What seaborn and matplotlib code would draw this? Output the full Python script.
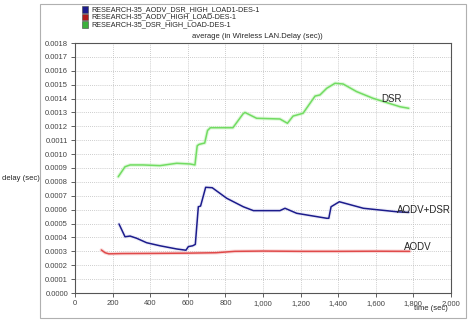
import numpy as np
import pandas as pd
import seaborn as sns
import matplotlib.pyplot as plt
from matplotlib.patches import Rectangle

# --- values ---
dsr_t = [230, 266, 293, 362, 452, 541, 612, 638, 650, 660, 690, 705, 720, 840, 894, 904,
         966, 1090, 1130, 1160, 1213, 1277, 1303, 1339, 1383, 1426, 1498, 1585, 1729, 1775]
dsr_v = [0.000837, 0.000909, 0.000922, 0.000922, 0.000917, 0.000934, 0.000929, 0.000922,
         0.00106, 0.00107, 0.00108, 0.00117, 0.00119, 0.00119, 0.00129, 0.00130,
         0.001258, 0.001253, 0.001222, 0.001274, 0.001294, 0.001418, 0.001426, 0.001474,
         0.00151, 0.001505, 0.00145, 0.001402, 0.001341, 0.00133]

mix_t = [234, 266, 293, 328, 381, 452, 541, 590, 603, 626, 640, 656, 668, 695, 730, 807,
         895, 949, 1090, 1117, 1179, 1232, 1339, 1350, 1362, 1406, 1534, 1711, 1775]
mix_v = [0.000497, 0.000405, 0.00041, 0.000394, 0.000362, 0.00034, 0.000317, 0.000308,
         0.000334, 0.00034, 0.00035, 0.000621, 0.000626, 0.000761, 0.000758, 0.000682,
         0.000621, 0.000593, 0.000593, 0.00061, 0.000574, 0.000562, 0.000538, 0.000538,
         0.000621, 0.000657, 0.00061, 0.000585, 0.00058]

aodv_t = [140, 160, 180, 250, 400, 600, 750, 850, 1000, 1200, 1400, 1600, 1780]
aodv_v = [0.00031, 0.00029, 0.000282, 0.000284, 0.000285, 0.000287, 0.00029, 0.0003,
          0.000302, 0.0003, 0.0003, 0.000301, 0.0003]

series_names = ["RESEARCH-35_AODV_DSR_HIGH_LOAD1-DES-1",
                "RESEARCH-35_AODV_HIGH_LOAD-DES-1",
                "RESEARCH-35_DSR_HIGH_LOAD-DES-1"]
line_colors = ["#1c1c8c", "#e04a4a", "#72dc62"]
glow_colors = ["#dcdcf2", "#f4b8b8", "#c0f2b8"]
legend_colors = ["#1c1c8c", "#b01c1c", "#3cb03c"]
x_ticks = list(range(0, 2001, 200))
y_ticks = [i / 10000 for i in range(0, 19)]

df = pd.concat([
    pd.DataFrame({"time": mix_t, "delay": mix_v, "series": series_names[0]}),
    pd.DataFrame({"time": aodv_t, "delay": aodv_v, "series": series_names[1]}),
    pd.DataFrame({"time": dsr_t, "delay": dsr_v, "series": series_names[2]}),
])

sns.set_style("white")
plt.rcParams["font.family"] = ["Liberation Sans", "DejaVu Sans"]

fig = plt.figure(figsize=(4.7, 3.22), dpi=100)
ax = fig.add_axes([75 / 470, 29 / 322, 376 / 470, 250 / 322])

# outer frame around the whole chart area
fig.patches.append(Rectangle((40 / 470, 4 / 322), 426 / 470, 314 / 322,
                             transform=fig.transFigure, fill=False,
                             edgecolor="#b0b0b0", linewidth=0.8))

# soft halo under each line, then the line itself
sns.lineplot(data=df, x="time", y="delay", hue="series", palette=glow_colors,
             hue_order=series_names, linewidth=2.6, alpha=0.5, legend=False, ax=ax,
             estimator=None, sort=False)
sns.lineplot(data=df, x="time", y="delay", hue="series", palette=line_colors,
             hue_order=series_names, linewidth=1.1, legend=False, ax=ax,
             estimator=None, sort=False)

ax.set_xlim(0, 2000)
ax.set_ylim(0, 0.0018)
ax.set_xticks(x_ticks)
ax.set_xticklabels(["0" if v == 0 else f"{v:,}" for v in x_ticks], fontsize=5.5)
ax.set_yticks(y_ticks)
ax.set_yticklabels([f"{v:.4f}" for v in y_ticks], fontsize=5.5)
ax.tick_params(axis="both", length=3, width=0.6, direction="out", pad=2,
               left=True, bottom=True, colors="#444444")
ax.grid(True, linestyle=(0, (1, 1.5)), color="#bcbcbc", linewidth=0.6)
for side in ["top", "right", "left", "bottom"]:
    ax.spines[side].set_color("#555555")
    ax.spines[side].set_linewidth(0.8)
ax.set_xlabel("")
ax.set_ylabel("")

# titles and axis labels
fig.text(257 / 470, 1 - 36 / 322, "average (in Wireless LAN.Delay (sec))",
         ha="center", va="center", fontsize=5.5)
fig.text(2 / 470, 1 - 178 / 322, "delay (sec)", ha="left", va="center", fontsize=5.5)
fig.text(448 / 470, 1 - 309 / 322, "time (sec)", ha="right", va="center", fontsize=5.5)

# line labels
ax.text(1630, 0.00140, "DSR", fontsize=7, ha="left", va="center")
ax.text(1712, 0.000598, "AODV+DSR", fontsize=7, ha="left", va="center")
ax.text(1750, 0.000328, "AODV", fontsize=7, ha="left", va="center")

# legend at top left, squares with text
for i, (name, col) in enumerate(zip(series_names, legend_colors)):
    y = 1 - (9.5 + i * 7.5) / 322
    fig.patches.append(Rectangle((82 / 470, y - 3 / 322), 6 / 470, 6 / 322,
                                 transform=fig.transFigure, facecolor=col,
                                 edgecolor="#444444", linewidth=0.4))
    fig.text(91 / 470, y, name, ha="left", va="center", fontsize=5.2)

fig.savefig("out.png", dpi=100)
